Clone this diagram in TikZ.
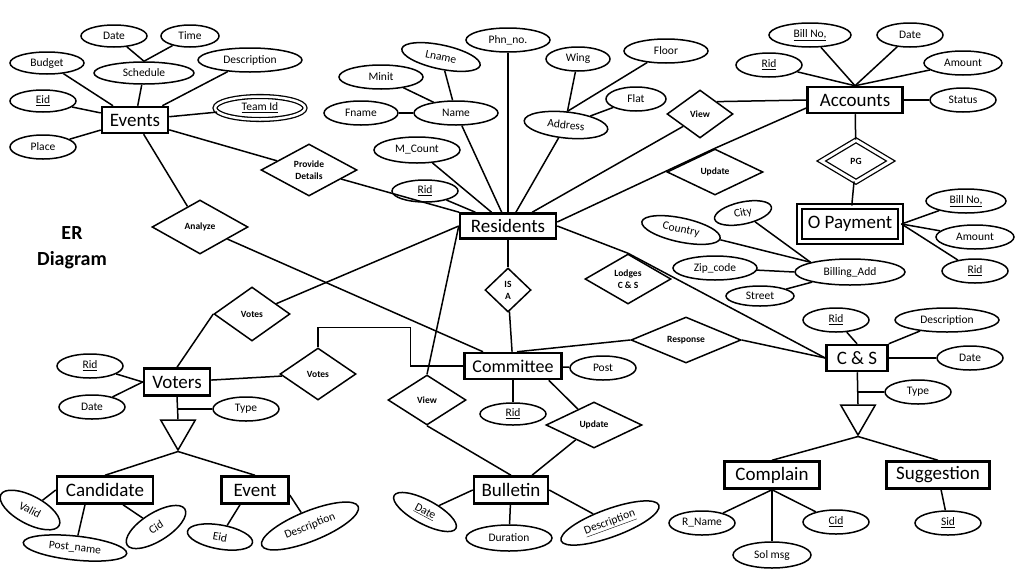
\documentclass[tikz,border=0pt]{standalone}
\usepackage{fontspec}
\setmainfont{Carlito}
\usetikzlibrary{positioning,shapes.geometric}
\newcommand{\keyatt}[1]{\underline{#1}}
\begin{document}
\begin{tikzpicture}[
    x=1pt, y=-1pt,
    every node/.style={font=\fontsize{11.5}{13}\selectfont, align=center},
    ent/.style={draw, line width=2.5pt, font=\fontsize{19}{21}\selectfont, minimum height=26pt, inner sep=2pt},
    wkent/.style={ent, double, double distance=3pt, line width=2pt},
    attr/.style={draw, ellipse, line width=1.5pt, minimum width=66pt, minimum height=24pt, inner sep=0pt},
    mattr/.style={attr, double, double distance=2.5pt, line width=1.3pt},
    rel/.style={draw, diamond, line width=1.5pt, inner sep=0pt, font=\fontsize{9.5}{12}\selectfont\bfseries},
    wkrel/.style={rel, double, double distance=3pt, line width=1.3pt},
    isa/.style={draw, regular polygon, regular polygon sides=3, shape border rotate=180, line width=1.5pt, minimum size=40pt, inner sep=0pt},
    link/.style={line width=1.5pt}
  ]
  \useasboundingbox (0,0) rectangle (1024,576);
  \node[font=\fontsize{20}{26}\selectfont\bfseries] (title) at (72,248) {ER\\Diagram};

  \node[ent, minimum width=66pt] (events) at (135,120) {Events};
  \node[attr, minimum height=22pt] (evdate) at (114,36) {Date};
  \node[attr, minimum width=58pt, minimum height=22pt] (evtime) at (190,36) {Time};
  \node[attr, minimum width=74pt, minimum height=22pt] (evbudget) at (47,63) {Budget};
  \node[attr, minimum width=100pt, minimum height=22pt] (evsched) at (144,73) {Schedule};
  \node[attr, minimum width=104pt] (evdesc) at (250,60) {Description};
  \node[attr, minimum height=22pt] (evid) at (43,101) {\keyatt{Eid}};
  \node[mattr, minimum width=90pt, minimum height=23pt] (evteam) at (260,108) {\keyatt{Team Id}};
  \node[attr] (evplace) at (43,147) {Place};
  \node[rel, minimum width=96pt, minimum height=52pt] (pd) at (309,170) {Provide\\Details};
  \node[rel, minimum width=96pt, minimum height=54pt] (an) at (200,227) {Analyze};

  \node[ent, minimum width=96pt, minimum height=25pt] (res) at (508,226) {Residents};
  \node[attr, minimum width=84pt] (rphn) at (508,40) {Phn\_no.};
  \node[attr, minimum width=80pt, rotate=-12] (rlname) at (441,57) {Lname};
  \node[attr, minimum width=84pt] (rminit) at (381,77) {Minit};
  \node[attr, minimum width=74pt] (rfname) at (361,113) {Fname};
  \node[attr, minimum width=84pt] (rname) at (456,113) {Name};
  \node[attr, minimum width=86pt, minimum height=26pt] (rcount) at (417,150) {M\_Count};
  \node[attr, minimum height=22pt] (rrid) at (425,191) {\keyatt{Rid}};
  \node[attr, minimum width=64pt] (rwing) at (578,59) {Wing};
  \node[attr, minimum width=84pt] (rfloor) at (666,51) {Floor};
  \node[attr, minimum width=60pt] (rflat) at (636,99) {Flat};
  \node[attr, minimum width=84pt, minimum height=26pt, rotate=-6] (raddr) at (566,125) {Address};
  \node[rel, minimum width=66pt, minimum height=48pt] (vw1) at (700,114) {View};
  \node[rel, minimum width=96pt, minimum height=46pt] (upd1) at (715,172) {Update};
  \node[rel, minimum width=86pt, minimum height=50pt] (lod) at (628,279) {Lodges\\C \& S};
  \node[rel, minimum width=46pt, minimum height=44pt] (isa) at (508,290) {IS\\A};

  \node[ent, minimum width=95pt] (acc) at (855,100) {Accounts};
  \node[attr, minimum width=82pt] (abill) at (810,35) {\keyatt{Bill No,}};
  \node[attr] (adate) at (910,35) {Date};
  \node[attr] (arid) at (769,65) {\keyatt{Rid}};
  \node[attr, minimum width=78pt] (aamt) at (963,63) {Amount};
  \node[attr] (astat) at (963,100) {Status};
  \node[wkrel, minimum width=70pt, minimum height=42pt] (pg) at (856,161) {PG};
  \node[wkent, minimum width=101pt, minimum height=35pt] (opay) at (850,224) {O Payment};
  \node[attr, minimum width=80pt] (obill) at (966,201) {\keyatt{Bill No,}};
  \node[attr, minimum width=78pt] (oamt) at (975,237) {Amount};
  \node[attr] (orid) at (975,271) {\keyatt{Rid}};
  \node[attr, minimum width=110pt, minimum height=26pt] (bill) at (850,272) {Billing\_Add};
  \node[attr, minimum width=58pt, minimum height=22pt, rotate=12] (city) at (743,213) {City};
  \node[attr, minimum width=80pt, rotate=-12] (country) at (681,230) {Country};
  \node[attr, minimum width=84pt] (zip) at (715,268) {Zip\_code};
  \node[attr, minimum width=68pt, minimum height=20pt] (street) at (760,296) {Street};

  \node[ent, minimum width=97pt, font=\fontsize{18}{20}\selectfont] (com) at (513,366) {Committee};
  \node[attr] (post) at (603,368) {Post};
  \node[attr, minimum height=22pt, below=22pt of com] (crid) {\keyatt{Rid}};
  \node[rel, minimum width=110pt, minimum height=46pt] (resp) at (686,340) {Response};
  \node[rel, minimum width=96pt, minimum height=46pt] (upd2) at (594,425) {Update};
  \node[rel, minimum width=78pt, minimum height=50pt] (vw2) at (427,400) {View};
  \node[ent, minimum width=74pt, minimum height=27pt] (bul) at (511,490) {Bulletin};
  \node[attr, minimum width=70pt, rotate=-28] (bdate) at (425,512) {\keyatt{Date}};
  \node[attr, minimum width=86pt, minimum height=26pt] (bdur) at (509,538) {Duration};
  \node[attr, minimum width=104pt, minimum height=28pt, rotate=20] (bdesc) at (610,523) {\keyatt{Description}};

  \node[ent, minimum width=61pt] (cs) at (857,358) {C \& S};
  \node[attr] (csrid) at (836,320) {\keyatt{Rid}};
  \node[attr, minimum width=104pt] (csdesc) at (947,320) {Description};
  \node[attr] (csdate) at (970,358) {Date};
  \node[attr] (cstype) at (918,392) {Type};
  \node[isa] (isac) at (858,415) {};
  \node[ent, minimum width=95pt, minimum height=27pt] (comp) at (772,475) {Complain};
  \node[ent, minimum width=103pt, minimum height=27pt] (sug) at (938,475) {Suggestion};
  \node[attr] (rname2) at (702,523) {R\_Name};
  \node[attr, minimum width=78pt, minimum height=26pt] (sol) at (772,555) {Sol msg};
  \node[attr] (compcid) at (836,522) {\keyatt{Cid}};
  \node[attr] (sid) at (948,523) {\keyatt{Sid}};

  \node[rel, minimum width=76pt, minimum height=54pt] (vt1) at (252,314) {Votes};
  \node[rel, minimum width=76pt, minimum height=52pt] (vt2) at (318,374) {Votes};
  \node[ent, minimum width=66pt, minimum height=27pt] (vot) at (177,382) {Voters};
  \node[attr] (vrid) at (90,366) {\keyatt{Rid}};
  \node[attr] (vdate) at (92,407) {Date};
  \node[attr] (vtype) at (246,409) {Type};
  \node[isa] (isav) at (178,430) {};
  \node[ent, minimum width=96pt, minimum height=27pt] (cand) at (105,490) {Candidate};
  \node[ent, minimum width=67pt, minimum height=27pt] (evt) at (255,490) {Event};
  \node[attr, minimum height=28pt, rotate=-28] (valid) at (30,510) {Valid};
  \node[attr, minimum width=104pt, rotate=-6] (postn) at (75,548) {Post\_name};
  \node[attr, minimum width=68pt, minimum height=28pt, rotate=32] (ccid) at (156,527) {Cid};
  \node[attr, rotate=-10] (eid2) at (220,537) {Eid};
  \node[attr, minimum width=104pt, minimum height=30pt, rotate=22] (edesc2) at (310,526) {Description};

  \draw[link] (evdate) -- (evsched.north);
  \draw[link] (evtime) -- (evsched.north);
  \draw[link] (evbudget) -- (events);
  \draw[link] (evsched) -- (events);
  \draw[link] (evdesc) -- (events);
  \draw[link] (evid) -- (events);
  \draw[link] (evplace) -- (events);
  \draw[link] (evteam) -- (events);
  \draw[link] (events) -- (pd);
  \draw[link] (pd) -- (res);
  \draw[link] (events) -- (an);
  \draw[link] (an) -- ([xshift=-30pt]com.north);

  \draw[link] (rfname) -- (rname);
  \draw[link] (rminit) -- (rname);
  \draw[link] (rlname) -- (rname);
  \draw[link] (rname) -- (res);
  \draw[link] (rphn) -- (res);
  \draw[link] (rcount) -- (res);
  \draw[link] (rrid) -- (res);
  \draw[link] (rwing) -- (raddr.north);
  \draw[link] (rfloor) -- (raddr.north);
  \draw[link] (rflat) -- (raddr);
  \draw[link] (raddr) -- (res);
  \draw[link] (res) -- (vw1.south west);
  \draw[link] (vw1.north east) -- (acc.west);
  \draw[link] ([yshift=4pt]res.east) -- (upd1.north) -- ([yshift=-8pt]acc.west);
  \draw[link] (res.east) -- (lod.north) -- (cs.west);
  \draw[link] (res) -- (isa);
  \draw[link] (isa) -- (com);

  \draw[link] (abill) -- (acc.north);
  \draw[link] (adate) -- (acc.north);
  \draw[link] (arid) -- (acc.north);
  \draw[link] (aamt) -- (acc.north);
  \draw[link] (astat) -- (acc);
  \draw[link] (acc) -- (pg);
  \draw[link] (pg) -- (opay);
  \draw[link] (obill) -- (opay.east);
  \draw[link] (oamt) -- (opay.east);
  \draw[link] (orid) -- (opay.east);
  \draw[link] (city) -- (bill.north west);
  \draw[link] (country) -- (bill.north west);
  \draw[link] (zip) -- (bill.west);
  \draw[link] (street) -- (bill);

  \draw[link] ([xshift=4pt]com.north) -- (resp.west);
  \draw[link] (resp.east) -- (cs.west);
  \draw[link] (com) -- (post);
  \draw[link] (com) -- (crid);
  \draw[link] ([xshift=-14pt]com.south east) -- (upd2);
  \draw[link] (upd2) -- ([xshift=21pt]bul.north);
  \draw[link] (res.west) -- (vw2.north);
  \draw[link] (vw2.south) -- (bul.north);
  \draw[link] (bul.west) -- (bdate);
  \draw[link] (bul) -- (bdur);
  \draw[link] (bul.east) -- (bdesc);

  \draw[link] (csrid) -- (cs.north);
  \draw[link] (csdesc) -- (cs.north east);
  \draw[link] (csdate) -- (cs);
  \draw[link] (cs) -- (isac.north);
  \draw[link] (cstype) -- (cs.south |- cstype);
  \draw[link] (isac.south) -- (comp.north);
  \draw[link] (isac.south) -- (sug.north);
  \draw[link] (comp.south) -- (rname2);
  \draw[link] (comp.south) -- (sol);
  \draw[link] (comp.south) -- (compcid);
  \draw[link] (sug) -- (sid);

  \draw[link] (vot.north) -- (vt1.west);
  \draw[link] (vt1) -- (res.west);
  \draw[link] (vot) -- (vt2);
  \draw[link] (vt2.north) -- ++(0,-20) -| ([xshift=-53pt]com.west) -- (com.west);
  \draw[link] (vrid) -- (vot.west);
  \draw[link] (vdate) -- (vot.west);
  \draw[link] (vot.south) -- (isav.north);
  \draw[link] (vtype) -- (vot.south |- vtype);
  \draw[link] (isav.south) -- (cand.north);
  \draw[link] (isav.south) -- (evt.north);
  \draw[link] (cand.west) -- (valid);
  \draw[link] ([xshift=-20pt]cand.south) -- (postn);
  \draw[link] ([xshift=18pt]cand.south) -- (ccid);
  \draw[link] ([xshift=-15pt]evt.south) -- (eid2);
  \draw[link] ([yshift=-5pt]evt.east) -- (edesc2);
\end{tikzpicture}
\end{document}
